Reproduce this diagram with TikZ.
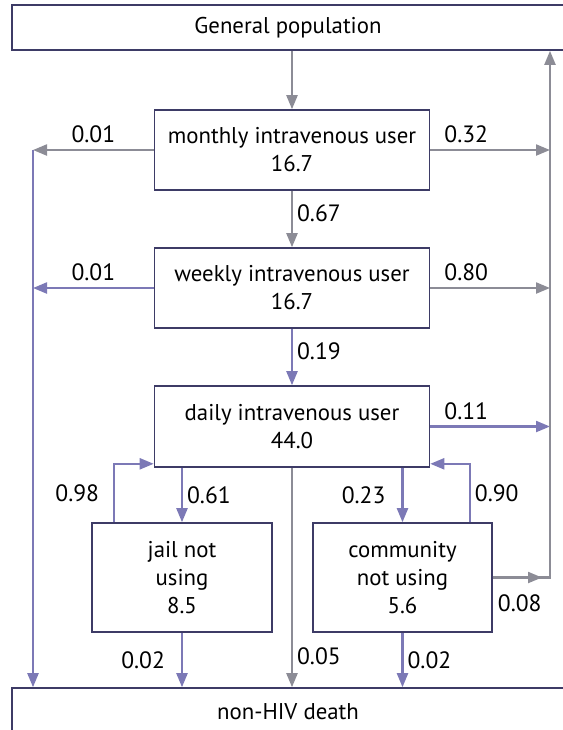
\documentclass[tikz,border=0pt]{standalone}
\usepackage{fontspec}
\setmainfont{PT Sans}
\usetikzlibrary{arrows.meta,positioning}
\definecolor{boxline}{HTML}{3D3B66}
\definecolor{flowgray}{HTML}{8C8C96}
\definecolor{flowblue}{HTML}{7C79B6}
\tikzset{
  box/.style={draw=boxline,line width=0.8pt,align=center,inner sep=0pt,
    font=\fontsize{11.4}{14}\selectfont},
  flow/.style={line width=1.1pt,-{Triangle[length=7pt,width=5.5pt]}},
  gflow/.style={flow,flowgray},
  bflow/.style={flow,flowblue},
  lbl/.style={font=\fontsize{11.8}{14}\selectfont,text=black,inner xsep=2pt,inner ysep=3pt},
}
\begin{document}
\begin{tikzpicture}[x=0.5pt,y=-0.5pt]
  \useasboundingbox (0,0) rectangle (563,730);
  \node[box,minimum width=276pt,minimum height=22.5pt] (gen) at (288,27.5) {General population};
  \node[box,minimum width=137.5pt,minimum height=40pt] (monthly) at (292,150) {monthly intravenous user\\16.7};
  \node[box,minimum width=137.5pt,minimum height=40pt] (weekly) at (292,288) {weekly intravenous user\\16.7};
  \node[box,minimum width=137.5pt,minimum height=40.5pt] (daily) at (292,426.5) {daily intravenous user\\44.0};
  \node[box,minimum width=90pt,minimum height=54.5pt] (jail) at (182,577.5) {jail not\\using\\8.5};
  \node[box,minimum width=89.5pt,minimum height=54.5pt] (comm) at (402.5,577.5) {community\\not using\\5.6};
  \node[box,minimum width=276pt,minimum height=24pt] (death) at (288,712) {non-HIV death};
  \coordinate (lx) at (33,0);
  \coordinate (rx) at (550,0);

  \draw[gflow] (monthly.north |- gen.south) -- (monthly.north);
  \draw[gflow] (monthly.west) -- (lx |- monthly.west) node[lbl,midway,above] {0.01};
  \draw[gflow] (monthly.east) -- (rx |- monthly.east) node[lbl,pos=0.3,above] {0.32};
  \draw[gflow] (monthly) -- (weekly) node[lbl,pos=0.4,right] {0.67};
  \draw[bflow] (weekly.west) -- (lx |- weekly.west) node[lbl,midway,above] {0.01};
  \draw[gflow] (weekly.east) -- (rx |- weekly.east) node[lbl,pos=0.3,above] {0.80};
  \draw[bflow] (weekly) -- (daily) node[lbl,pos=0.4,right] {0.19};
  \draw[bflow] (daily.east) -- (rx |- daily.east) node[lbl,pos=0.3,above] {0.11};
  \draw[bflow] (lx |- monthly.west) -- (lx |- death.north);
  \draw[gflow] (comm.east) -| (rx |- gen.south);
  \draw[gflow] (comm.east) -- ([xshift=-4pt]rx |- comm.east) node[lbl,pos=0,below right,yshift=-5pt] {0.08};
  \draw[bflow] ([xshift=11.5pt]jail.north west) |- ([yshift=2pt]daily.south west) node[lbl,pos=0.25,left=5pt] {0.98};
  \draw[bflow] (daily.south -| jail.north) -- (jail.north) node[lbl,midway,right] {0.61};
  \draw[bflow] (daily.south -| comm.north) -- (comm.north) node[lbl,midway,left=6pt] {0.23};
  \draw[bflow] ([xshift=-11.5pt]comm.north east) |- ([yshift=2pt]daily.south east) node[lbl,pos=0.25,right] {0.90};
  \draw[gflow] (daily.south) -- (death.north -| daily.south) node[lbl,pos=0.86,right] {0.05};
  \draw[bflow] (jail.south) -- (death.north -| jail.south) node[lbl,midway,left=6pt] {0.02};
  \draw[bflow] (comm.south) -- (death.north -| comm.south) node[lbl,midway,right] {0.02};
\end{tikzpicture}
\end{document}
